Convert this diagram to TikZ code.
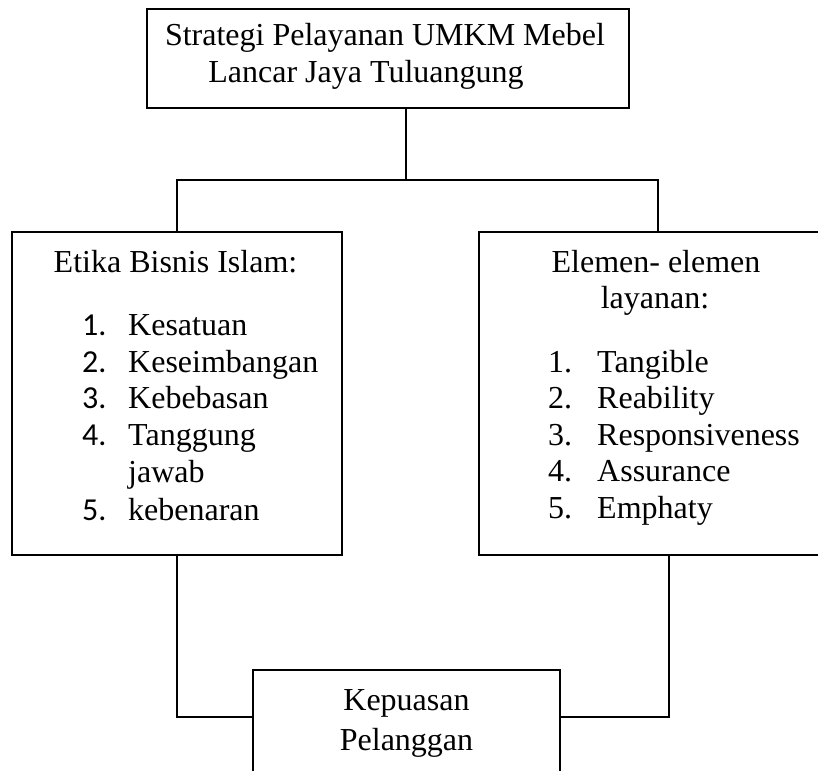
\documentclass[tikz,border=0pt]{standalone}
\usepackage{fontspec}
\setmainfont{Liberation Serif}
\newfontfamily\numfont{Carlito}
\begin{document}
\begin{tikzpicture}[x=1pt,y=-1pt,
  box/.style={draw=black, line width=1.6pt, inner sep=0pt, rectangle},
  conn/.style={draw=black, line width=1.6pt},
  txt/.style={font=\fontsize{32}{37}\selectfont, inner sep=0pt, anchor=base},
  txtw/.style={font=\fontsize{32}{37}\selectfont, inner sep=0pt, anchor=base west}]
\useasboundingbox (0,0) rectangle (818,770);
\clip (0,0) rectangle (818,770);
% boxes
\node[box, minimum width=482pt, minimum height=99pt] (top) at (388,58.5) {};
\node[box, minimum width=330pt, minimum height=323pt] (left) at (177,393.5) {};
\node[box, minimum width=358pt, minimum height=323pt] (right) at (658,393.5) {};
\node[box, minimum width=307pt, minimum height=130pt] (kep) at (406.5,735) {};
% top text
\node[txt] (t1) at (385,46) {Strategi Pelayanan UMKM Mebel};
\node[txt] (t2) at (366,83) {Lancar Jaya Tuluangung};
% left text
\node[txt] (lt) at (175.5,272) {Etika Bisnis Islam:};
\node[txtw] (ln1) at (82,335) {\numfont 1.};
\node[txtw] (li1) at (128,335) {Kesatuan};
\node[txtw] (ln2) at (82,372) {\numfont 2.};
\node[txtw] (li2) at (128,372) {Keseimbangan};
\node[txtw] (ln3) at (82,408) {\numfont 3.};
\node[txtw] (li3) at (128,408) {Kebebasan};
\node[txtw] (ln4) at (82,445) {\numfont 4.};
\node[txtw] (li4) at (128,445) {Tanggung};
\node[txtw] (li4b) at (128,482) {jawab};
\node[txtw] (ln5) at (82,520) {\numfont 5.};
\node[txtw] (li5) at (128,520) {kebenaran};
% right text
\node[txt] (rt1) at (656,272) {Elemen- elemen};
\node[txt] (rt2) at (655,308) {layanan:};
\node[txtw] (rn1) at (548,372) {1.};
\node[txtw] (ri1) at (597,372) {Tangible};
\node[txtw] (rn2) at (548,408) {2.};
\node[txtw] (ri2) at (597,408) {Reability};
\node[txtw] (rn3) at (548,445) {3.};
\node[txtw] (ri3) at (597,445) {Responsiveness};
\node[txtw] (rn4) at (548,481) {4.};
\node[txtw] (ri4) at (597,481) {Assurance};
\node[txtw] (rn5) at (548,518) {5.};
\node[txtw] (ri5) at (597,518) {Emphaty};
% bottom text
\node[txt] (k1) at (406.5,710) {Kepuasan};
\node[txt] (k2) at (406.5,750) {Pelanggan};
% connectors
\coordinate (j) at (406,180);
\draw[conn] ([xshift=18pt]top.south) -- (j);
\draw[conn] (left.north) |- (j) -| (right.north);
\draw[conn] (left.south) |- ([yshift=18pt]kep.west);
\draw[conn] ([xshift=11pt]right.south) |- ([yshift=18pt]kep.east);
\end{tikzpicture}
\end{document}
